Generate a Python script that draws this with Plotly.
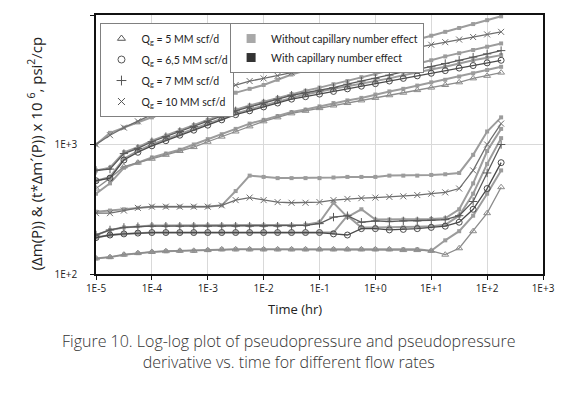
import plotly.graph_objects as go

# Time (hr)
time_hr = [1.0e-5, 1.78e-5, 3.16e-5, 5.62e-5,
           1.0e-4, 1.78e-4, 3.16e-4, 5.62e-4,
           1.0e-3, 1.78e-3, 3.16e-3, 5.62e-3,
           1.0e-2, 1.78e-2, 3.16e-2, 5.62e-2,
           0.1, 0.178, 0.316, 0.562,
           1.0, 1.78, 3.16, 5.62,
           10.0, 17.8, 31.6, 56.2,
           100.0, 178.0]

# Pseudopressure change (x 1e6 psi^2/cp) - with capillary number effect
dm_5_with = [457, 550, 676, 724, 776, 832, 891, 955, 1050, 1150, 1260, 1380, 1510, 1620, 1740,
             1820, 1910, 2000, 2090, 2190, 2290, 2400, 2510, 2630, 2750, 2880, 3020, 3240, 3390, 3590]
dm_65_with = [525, 550, 759, 871, 977, 1070, 1180, 1290, 1410, 1550, 1700, 1820, 1950, 2090, 2240,
              2340, 2450, 2570, 2690, 2820, 2950, 3090, 3240, 3390, 3550, 3720, 3890, 4070, 4270, 4470]
dm_7_with = [631, 646, 851, 933, 1050, 1150, 1260, 1380, 1510, 1660, 1820, 1950, 2090, 2240, 2400,
             2510, 2630, 2750, 2920, 3090, 3240, 3430, 3630, 3800, 3980, 4220, 4470, 4730, 5010, 5310]
dm_10_with = [1000, 1180, 1350, 1510, 1700, 1860, 2040, 2240, 2450, 2690, 2880, 3090, 3240, 3390, 3590,
              3800, 3980, 4220, 4470, 4680, 4900, 5130, 5370, 5620, 5890, 6170, 6460, 6760, 7080, 7410]
# without capillary number effect
dm_5_without = [417, 501, 661, 724, 794, 851, 912, 1000, 1100, 1200, 1320, 1450, 1550, 1660, 1780,
                1860, 1970, 2090, 2190, 2290, 2430, 2570, 2690, 2850, 3020, 3160, 3350, 3550, 3760, 3980]
dm_65_without = [525, 562, 776, 891, 1000, 1100, 1200, 1320, 1450, 1580, 1740, 1860, 2000, 2140, 2290,
                 2430, 2570, 2690, 2820, 2950, 3090, 3240, 3430, 3630, 3800, 3980, 4220, 4470, 4680, 4900]
dm_7_without = [631, 661, 871, 955, 1070, 1170, 1290, 1410, 1550, 1700, 1860, 2000, 2140, 2290, 2450,
                2600, 2750, 2920, 3090, 3310, 3510, 3720, 3980, 4220, 4470, 4790, 5070, 5370, 5690, 6030]
dm_10_without = [1000, 1230, 1350, 1480, 1620, 1780, 1910, 2040, 2190, 2340, 2510, 2690, 2880, 3160, 3470,
                 3720, 3980, 4270, 4570, 4900, 5250, 5620, 6030, 6460, 6920, 7410, 7940, 8510, 9120, 9770]

# Derivative t*dm'(P) - with capillary number effect
der_5_with = [132, 135, 141, 145, 148, 150, 151, 151, 153, 155, 155, 155, 155, 155, 155,
              155, 155, 155, 155, 155, 155, 155, 153, 153, 151, 141, 158, 214, 295, 468]
der_65_with = [191, 200, 204, 207, 209, 209, 209, 209, 209, 209, 209, 209, 209, 209, 209,
               209, 209, 204, 200, 224, 224, 219, 221, 224, 229, 234, 251, 316, 457, 724]
der_7_with = [200, 219, 229, 232, 234, 234, 234, 234, 234, 234, 234, 234, 234, 234, 234,
              237, 245, 275, 282, 251, 257, 254, 257, 257, 260, 263, 282, 363, 603, 1000]
der_10_with = [295, 295, 309, 324, 331, 331, 331, 331, 331, 339, 372, 389, 372, 359, 355,
               355, 359, 372, 380, 385, 389, 394, 398, 407, 417, 427, 457, 631, 1000, 1450]
# without capillary number effect
der_5_without = [132, 135, 141, 145, 148, 150, 151, 151, 153, 155, 155, 155, 155, 155, 155,
                 155, 155, 155, 155, 155, 155, 155, 155, 155, 151, 182, 214, 282, 417, 631]
der_65_without = [191, 200, 204, 207, 209, 209, 209, 209, 209, 209, 209, 209, 209, 209, 209,
                  209, 209, 209, 282, 229, 229, 229, 229, 232, 234, 240, 282, 417, 708, 1120]
der_7_without = [200, 219, 229, 234, 237, 237, 237, 237, 237, 237, 237, 237, 237, 237, 237,
                 240, 251, 355, 275, 316, 263, 263, 263, 263, 266, 269, 316, 501, 891, 1320]
der_10_without = [302, 309, 316, 324, 331, 331, 331, 331, 331, 339, 437, 575, 562, 550, 550,
                  550, 550, 556, 562, 562, 562, 575, 575, 575, 582, 589, 603, 832, 1260, 1620]

rate_labels = ["Q<sub>g</sub> = 5 MM scf/d", "Q<sub>g</sub> = 6,5 MM scf/d",
               "Q<sub>g</sub> = 7 MM scf/d", "Q<sub>g</sub> = 10 MM scf/d"]
cap_labels = ["Without capillary number effect", "With capillary number effect"]

x_tickvals = [1e-5, 1e-4, 1e-3, 1e-2, 1e-1, 1e0, 1e1, 1e2, 1e3]
x_ticktext = ["1E-5", "1E-4", "1E-3", "1E-2", "1E-1", "1E+0", "1E+1", "1E+2", "1E+3"]
y_tickvals = [1e2, 1e3, 1e4]
y_ticktext = ["1E+2", "1E+3", "1E+4"]

symbols = ["triangle-up-open", "circle-open", "cross-thin-open", "x-thin-open"]
colors = ["#8c8c8c", "#4a4a4a", "#5a5a5a", "#6e6e6e"]
sq_color = "#9c9c9c"

fig = go.Figure()

with_p = [dm_5_with, dm_65_with, dm_7_with, dm_10_with]
with_d = [der_5_with, der_65_with, der_7_with, der_10_with]
wo_p = [dm_5_without, dm_65_without, dm_7_without, dm_10_without]
wo_d = [der_5_without, der_65_without, der_7_without, der_10_without]

for series in wo_p + wo_d:
    fig.add_trace(go.Scatter(
        x=time_hr, y=series, mode="lines+markers", showlegend=False,
        line=dict(color=sq_color, width=2),
        marker=dict(symbol="square", size=4, color=sq_color)))

for i in range(4):
    for series in (with_p[i], with_d[i]):
        fig.add_trace(go.Scatter(
            x=time_hr, y=series, mode="lines+markers", showlegend=False,
            line=dict(color=colors[i], width=1.3),
            marker=dict(symbol=symbols[i], size=6, color=colors[i],
                        line=dict(color=colors[i], width=1))))

for i in range(4):
    fig.add_trace(go.Scatter(
        x=[None], y=[None], mode="markers", name=rate_labels[i], legend="legend",
        legendgroup="rate%d" % i,
        marker=dict(symbol=symbols[i], size=7, color="#555555",
                    line=dict(color="#555555", width=1))))
fig.add_trace(go.Scatter(x=[None], y=[None], mode="markers", name=cap_labels[0],
                         legend="legend2",
                         marker=dict(symbol="square", size=9, color="#a8a8a8")))
fig.add_trace(go.Scatter(x=[None], y=[None], mode="markers", name=cap_labels[1],
                         legend="legend2",
                         marker=dict(symbol="square", size=9, color="#333333")))

axis_font = dict(family="Open Sans", size=10, color="#222222")
leg_font = dict(family="Lato", size=10.5, color="#222222")
cap_font = dict(family="Open Sans", size=16, weight=300, color="#333333")

fig.update_layout(
    width=569, height=387,
    margin=dict(l=88, r=34, t=7, b=121, autoexpand=False),
    paper_bgcolor="white", plot_bgcolor="white",
    xaxis=dict(type="log", range=[-5, 3], tickvals=x_tickvals, ticktext=x_ticktext,
               showgrid=True, gridcolor="#d9d9d9", gridwidth=1,
               showline=True, linecolor="#111111", linewidth=1.5, mirror=True,
               ticks="outside", ticklen=4, tickcolor="#111111",
               tickfont=axis_font, zeroline=False),
    yaxis=dict(type="log", range=[2, 4], tickvals=y_tickvals, ticktext=y_ticktext,
               showgrid=True, gridcolor="#d9d9d9", gridwidth=1,
               showline=True, linecolor="#111111", linewidth=1.5, mirror=True,
               ticks="outside", ticklen=4, tickcolor="#111111",
               tickfont=axis_font, ticklabelstandoff=11, zeroline=False),
    legend=dict(x=0.01, y=0.969, xanchor="left", yanchor="top",
                bgcolor="white", bordercolor="#808080", borderwidth=1,
                font=leg_font, itemwidth=30, traceorder="grouped", tracegroupgap=2),
    legend2=dict(x=0.30, y=0.969, xanchor="left", yanchor="top",
                 bgcolor="white", bordercolor="#808080", borderwidth=1,
                 font=leg_font, itemwidth=30, tracegroupgap=0),
    annotations=[
        dict(text="Time (hr)", xref="paper", yref="paper", x=0.445, y=-0.135,
             xanchor="center", yanchor="middle", showarrow=False,
             font=dict(family="Open Sans", size=13, color="#222222")),
        dict(text="(Δm(P)) & (t*Δm´(P)) x 10 <sup>6</sup>, psi<sup>2</sup>/cp",
             xref="paper", yref="paper", x=-0.138, y=0.467, textangle=-90,
             xanchor="center", yanchor="middle", showarrow=False,
             font=dict(family="Open Sans", size=15, color="#222222")),
        dict(text="Figure 10. Log-log plot of pseudopressure and pseudopressure<br>"
                  "derivative vs. time for different flow rates",
             xref="paper", yref="paper", x=0.432, y=-0.2085, xanchor="center",
             yanchor="top", showarrow=False, align="center", font=cap_font),
    ],
)

fig.write_html("out.html")
